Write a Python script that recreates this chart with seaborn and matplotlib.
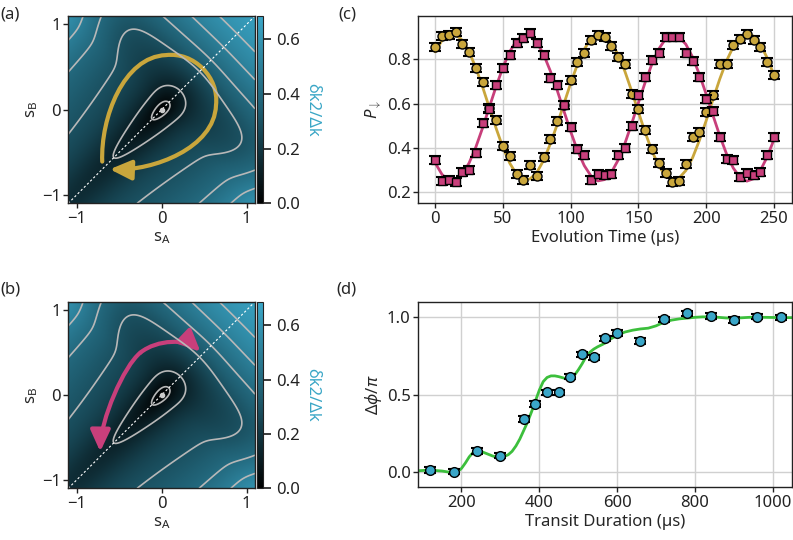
import numpy as np
import matplotlib
matplotlib.use("Agg")
import matplotlib.pyplot as plt
import seaborn as sns
from matplotlib.colors import LinearSegmentedColormap
from matplotlib.patches import FancyArrowPatch
from matplotlib.path import Path

# ---------------- datos ----------------
# (c) oscilaciones
t_evol = np.arange(0, 255, 5)
p_oro = [0.855, 0.906, 0.909, 0.921, 0.868, 0.833, 0.761, 0.697, 0.580, 0.526,
         0.408, 0.363, 0.281, 0.257, 0.324, 0.275, 0.360, 0.438, 0.520, 0.595,
         0.707, 0.788, 0.830, 0.887, 0.909, 0.900, 0.860, 0.812, 0.779, 0.643,
         0.574, 0.480, 0.396, 0.333, 0.287, 0.245, 0.251, 0.329, 0.450, 0.470,
         0.560, 0.639, 0.777, 0.780, 0.864, 0.892, 0.913, 0.886, 0.857, 0.786,
         0.729]
p_rosa = [0.345, 0.250, 0.254, 0.247, 0.290, 0.300, 0.378, 0.514, 0.574, 0.682,
          0.762, 0.820, 0.872, 0.895, 0.918, 0.872, 0.817, 0.713, 0.683, 0.592,
          0.495, 0.397, 0.367, 0.254, 0.284, 0.277, 0.281, 0.366, 0.400, 0.500,
          0.639, 0.719, 0.797, 0.830, 0.900, 0.900, 0.900, 0.830, 0.790, 0.719,
          0.622, 0.565, 0.447, 0.352, 0.345, 0.269, 0.287, 0.278, 0.290, 0.367,
          0.447]
ajuste_oro = [0.833, 0.885, 0.912, 0.912, 0.885, 0.833, 0.761, 0.674, 0.580, 0.487,
              0.401, 0.331, 0.281, 0.257, 0.260, 0.289, 0.344, 0.419, 0.505, 0.599,
              0.692, 0.777, 0.845, 0.892, 0.914, 0.908, 0.876, 0.820, 0.745, 0.656,
              0.561, 0.469, 0.386, 0.319, 0.274, 0.256, 0.264, 0.298, 0.356, 0.434,
              0.523, 0.618, 0.710, 0.792, 0.856, 0.899, 0.915, 0.904, 0.867, 0.806,
              0.728]
ajuste_rosa = [0.332, 0.280, 0.253, 0.253, 0.280, 0.332, 0.404, 0.491, 0.585, 0.678,
               0.764, 0.834, 0.884, 0.908, 0.905, 0.876, 0.821, 0.746, 0.660, 0.566,
               0.473, 0.388, 0.320, 0.273, 0.251, 0.257, 0.289, 0.345, 0.420, 0.509,
               0.604, 0.696, 0.779, 0.846, 0.891, 0.909, 0.901, 0.867, 0.809, 0.731,
               0.642, 0.547, 0.455, 0.373, 0.309, 0.266, 0.250, 0.261, 0.298, 0.359,
               0.437]
err_c = 0.018

# (d) fase geometrica
t_transito = [120, 180, 240, 300, 360, 390, 420, 450, 480, 510,
              540, 570, 600, 660, 720, 780, 840, 900, 960, 1020]
fase = [0.015, 0.004, 0.137, 0.107, 0.344, 0.441, 0.516, 0.516, 0.617, 0.761,
        0.742, 0.864, 0.897, 0.849, 0.987, 1.026, 1.008, 0.983, 1.004, 1.000]
err_d = 0.018
t_teoria = [90, 110, 130, 150, 170, 180, 190, 200, 210, 220, 230, 240, 250, 260,
            270, 280, 290, 300, 310, 320, 330, 340, 350, 360, 370, 380, 390, 400,
            410, 420, 430, 440, 450, 460, 470, 480, 490, 500, 510, 520, 530, 540,
            550, 560, 570, 580, 600, 620, 640, 660, 680, 700, 720, 740, 760, 780,
            800, 820, 840, 860, 880, 900, 920, 940, 960, 980, 1000, 1020, 1040, 1050]
fase_teoria = [0.010, 0.013, 0.012, 0.008, 0.000, -0.003, 0.003, 0.025, 0.060, 0.100,
               0.128, 0.138, 0.135, 0.125, 0.115, 0.105, 0.098, 0.097, 0.102, 0.113,
               0.135, 0.170, 0.215, 0.270, 0.325, 0.390, 0.460, 0.530, 0.585, 0.612,
               0.622, 0.622, 0.617, 0.610, 0.603, 0.607, 0.625, 0.660, 0.700, 0.745,
               0.775, 0.795, 0.810, 0.822, 0.835, 0.855, 0.885, 0.905, 0.917, 0.925,
               0.930, 0.945, 0.968, 0.982, 0.990, 0.995, 1.000, 1.003, 1.003, 1.000,
               0.996, 0.995, 0.997, 1.000, 1.000, 1.000, 0.999, 0.998, 0.998, 0.998]

# (a), (b) trayectorias en el plano (sA, sB): puntos y controles Bezier cubicos
lazo_sA = [-0.70, -0.72, -0.45, 0.05, 0.38, 0.68, 0.64, 0.62, -0.10, -0.61]
lazo_sB = [-0.61, -0.10, 0.62, 0.64, 0.68, 0.38, 0.05, -0.45, -0.72, -0.70]
# ida y vuelta: desde el punto medio hacia cada extremo
ida1_sA = [-0.25, -0.05, 0.30, 0.457]
ida1_sB = [0.50, 0.66, 0.66, 0.510]
ida2_sA = [-0.25, -0.45, -0.72, -0.724]
ida2_sB = [0.50, 0.34, -0.30, -0.667]

# mapa del hueco (modelo en ejes diagonal u y antidiagonal v)
LIM = 1.1
FMAX = 0.686
ESCALA = 1.6
A_U, B_U = 0.2044, 0.173      # crecimiento a lo largo de +u
S_NEG = 0.775                 # saturacion a lo largo de -u
C_V, S_V, D_V = 0.20, 0.45, 0.35
K_H = 0.9
niveles = [0.043, 0.127, 0.296, 0.40, 0.50, 0.58]

ORO = "#c9a63c"
ROSA = "#c83f7b"
AZUL = "#3aa6c8"
VERDE = "#3cbf3c"
TEAL = "#3aa6c6"

# ---------------- estilo ----------------
sns.set_theme(style="ticks")
plt.rcParams['font.family'] = ['Noto Sans', 'DejaVu Sans']
plt.rcParams.update({
    'font.size': 12,
    'axes.edgecolor': '#222222',
    'axes.linewidth': 1.0,
    'xtick.color': '#222222',
    'ytick.color': '#222222',
    'xtick.labelsize': 12,
    'ytick.labelsize': 12,
    'axes.labelsize': 12,
    'mathtext.fontset': 'custom',
    'mathtext.rm': 'Noto Sans',
    'mathtext.it': 'Noto Sans:italic',
})

fig = plt.figure(figsize=(7.93, 5.40), dpi=100)

cmap_hueco = LinearSegmentedColormap.from_list(
    "hueco", ["#000000", "#1f5e71", "#3ba7c8"])

s = np.linspace(-LIM, LIM, 500)
SA, SB = np.meshgrid(s, s)
U = (SA + SB) / np.sqrt(2)
V = (SB - SA) / np.sqrt(2)
X = np.where(U > 0, A_U * U + B_U * U ** 2, A_U * U / (1 + np.abs(U) / S_NEG))
Y = C_V * np.tanh(V / S_V) + D_V * np.sign(V) * (V / 1.556) ** 4
Y = Y * np.exp(-K_H * (U + np.sqrt(U ** 2 + 0.01)) / 2)
hueco = FMAX * np.tanh(ESCALA * np.hypot(X, Y) / FMAX)


def mapa(ax, cax):
    im = ax.imshow(hueco, extent=[-LIM, LIM, -LIM, LIM], origin='lower',
                   cmap=cmap_hueco, vmin=0, vmax=FMAX, aspect='auto')
    ax.contour(SA, SB, hueco, levels=niveles, colors='#b8b8b8', linewidths=1.2)
    ax.plot([-LIM, LIM], [-LIM, LIM], color='white', lw=0.8, ls=(0, (2, 2)))
    ax.plot([0], [0], 'o', color='#cccccc', ms=3)
    ax.set_xlim(-LIM, LIM)
    ax.set_ylim(-LIM, LIM)
    ax.set_xticks([-1, 0, 1])
    ax.set_yticks([-1, 0, 1])
    ax.set_ylabel(r"s$_\mathregular{B}$", labelpad=1)
    cb = fig.colorbar(im, cax=cax, ticks=[0, 0.2, 0.4, 0.6])
    cb.outline.set_linewidth(0.8)
    cb.set_label("δk2/Δk", rotation=270, color=TEAL, labelpad=15, fontsize=12)
    return ax


def flecha_bezier(ax, xs, ys, color):
    codigos = [Path.MOVETO] + [Path.CURVE4] * (len(xs) - 1)
    p = FancyArrowPatch(path=Path(np.column_stack([xs, ys]), codigos),
                        arrowstyle="-|>,head_length=1.3,head_width=0.6",
                        mutation_scale=10, lw=3, color=color, capstyle='round')
    ax.add_patch(p)


ax_a = mapa(fig.add_axes([0.0861, 0.6235, 0.2355, 0.347]),
            fig.add_axes([0.3245, 0.6235, 0.0068, 0.347]))
ax_a.set_xlabel(r"s$_\mathregular{A}$", labelpad=2)
flecha_bezier(ax_a, lazo_sA, lazo_sB, ORO)

ax_b = mapa(fig.add_axes([0.0861, 0.0957, 0.2355, 0.3456]),
            fig.add_axes([0.3245, 0.0957, 0.0068, 0.3456]))
ax_b.set_xlabel(r"s$_\mathregular{A}$", labelpad=2)
flecha_bezier(ax_b, ida1_sA, ida1_sB, ROSA)
flecha_bezier(ax_b, ida2_sA, ida2_sB, ROSA)

# (c)
ax_c = fig.add_axes([0.5275, 0.6235, 0.4715, 0.347])
sns.lineplot(x=t_evol, y=ajuste_oro, ax=ax_c, color=ORO, lw=2, zorder=2)
sns.lineplot(x=t_evol, y=ajuste_rosa, ax=ax_c, color=ROSA, lw=2, zorder=2)
ax_c.errorbar(t_evol, p_oro, yerr=err_c, fmt='none', ecolor='black',
              elinewidth=1.2, capsize=4.5, capthick=1.5, zorder=3)
ax_c.plot(t_evol, p_oro, 'o', ms=6.5, mfc=ORO, mec='black', mew=1.0, zorder=4)
ax_c.errorbar(t_evol, p_rosa, yerr=err_c, fmt='none', ecolor='black',
              elinewidth=1.2, capsize=4.5, capthick=1.5, zorder=5)
ax_c.plot(t_evol, p_rosa, 's', ms=5.5, mfc=ROSA, mec='black', mew=1.0, zorder=6)
ax_c.set_xlim(-12.5, 263.5)
ax_c.set_ylim(0.15, 0.995)
ax_c.set_xticks([0, 50, 100, 150, 200, 250])
ax_c.set_yticks([0.2, 0.4, 0.6, 0.8])
ax_c.grid(True, color='#d0d0d0', lw=1.0)
ax_c.set_axisbelow(True)
ax_c.set_xlabel("Evolution Time (µs)", labelpad=2)
ax_c.set_ylabel(r"$P_\downarrow$", labelpad=2)

# (d)
ax_d = fig.add_axes([0.5275, 0.0976, 0.4715, 0.3426])
sns.lineplot(x=t_teoria, y=fase_teoria, ax=ax_d, color=VERDE, lw=2, zorder=2)
ax_d.errorbar(t_transito, fase, yerr=err_d, fmt='none', ecolor='black',
              elinewidth=1.2, capsize=4.5, capthick=1.5, zorder=3)
ax_d.plot(t_transito, fase, 'o', ms=7, mfc=AZUL, mec='black', mew=1.0, zorder=4)
ax_d.set_xlim(89, 1050)
ax_d.set_ylim(-0.097, 1.097)
ax_d.set_xticks([200, 400, 600, 800, 1000])
ax_d.set_yticks([0.0, 0.5, 1.0])
ax_d.grid(True, color='#d0d0d0', lw=1.0)
ax_d.set_axisbelow(True)
ax_d.set_xlabel("Transit Duration (µs)", labelpad=2)
ax_d.set_ylabel(r"$\Delta\phi/\pi$", labelpad=2)

for ax in (ax_a, ax_b, ax_c, ax_d):
    ax.tick_params(length=3.5, width=1.0, pad=2)

fig.text(0.0, 0.988, "(a)", fontsize=12, va='top')
fig.text(0.0, 0.478, "(b)", fontsize=12, va='top')
fig.text(0.427, 0.988, "(c)", fontsize=12, va='top')
fig.text(0.424, 0.478, "(d)", fontsize=12, va='top')

fig.savefig("out.png", dpi=100)
